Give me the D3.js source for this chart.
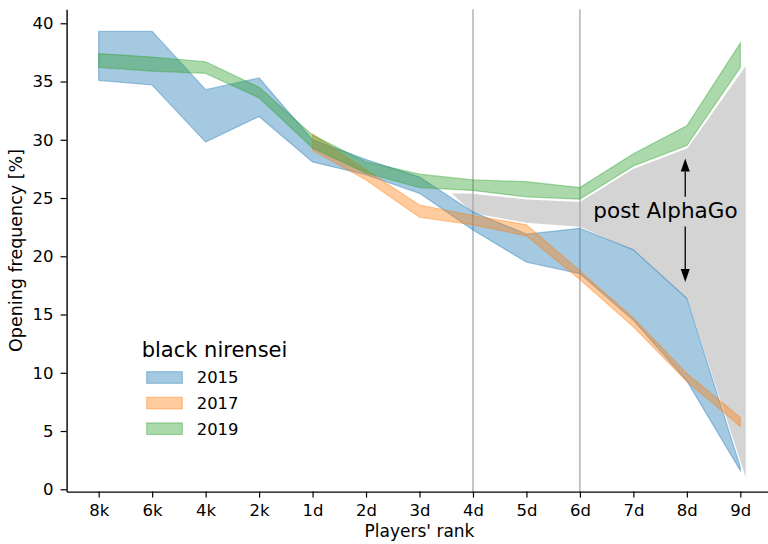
<!DOCTYPE html>
<html lang="en">
<head>
<meta charset="UTF-8">
<title>Opening frequency by rank</title>
<script src="https://d3js.org/d3.v7.min.js"></script>
<style>
  body { margin: 0; background: #fff; }
  svg { font-family: "DejaVu Sans", sans-serif; display: block; }
  .tick text { font-size: 16.5px; fill: #000; }
  .axis path, .axis line { stroke: #000; }
</style>
</head>
<body>
<div id="chart"></div>
<script>
// ranks on the x axis
const ranks = ["8k", "6k", "4k", "2k", "1d", "2d", "3d", "4d", "5d", "6d", "7d", "8d", "9d"];

// bands (lower / upper bound, %) per year
const low2015  = [35.1, 34.7, 29.8, 32.0, 28.1, 27.0, 25.4, 22.25, 19.5, 18.5, 14.5, 9.3, 1.6];
const high2015 = [39.3, 39.3, 34.3, 35.3, 30.0, 28.3, 26.8, 23.8, 21.9, 22.4, 20.55, 16.4, 1.9];
const low2017  = [null, null, null, null, 29.1, 26.55, 23.35, 22.7, 21.75, 18.0, 13.95, 9.25, 5.4];
const high2017 = [null, null, null, null, 30.5, 27.4, 24.4, 23.5, 22.7, 18.75, 14.7, 9.95, 6.15];
const low2019  = [36.2, 35.9, 35.7, 33.6, 29.3, 27.15, 25.9, 25.65, 25.1, 24.9, 27.75, 29.5, 36.2];
const high2019 = [37.4, 37.1, 36.7, 34.5, 30.4, 28.1, 27.05, 26.55, 26.4, 25.9, 28.8, 31.2, 38.3];

// grey "post AlphaGo" gap (x in rank index units)
const gapX    = [6.55, 7, 8, 9, 10, 11, 12.12];
const gapLow  = [25.5, 23.6, 22.8, 22.45, 20.4, 16.2, 0.5];
const gapHigh = [25.5, 25.45, 24.95, 24.75, 27.6, 29.35, 36.6];

const yTicks = [0, 5, 10, 15, 20, 25, 30, 35, 40];
const years = ["2015", "2017", "2019"];
const colors = ["#1f77b4", "#ff7f0e", "#2ca02c"];

const width = 768, height = 544;

const svg = d3.select("#chart").append("svg")
    .attr("width", width)
    .attr("height", height);

svg.append("rect").attr("width", width).attr("height", height).attr("fill", "#fff");

const x = d3.scaleLinear().domain([-0.6, 12.6]).range([66.6, 772.4]);
const y = d3.scaleLinear().domain([-0.2, 41.2]).range([491.6, 9.3]);

// grey gap area
const gap = gapX.map((v, i) => ({x: v, lo: gapLow[i], hi: gapHigh[i]}));
svg.append("path")
    .datum(gap)
    .attr("d", d3.area().x(d => x(d.x)).y0(d => y(d.lo)).y1(d => y(d.hi)))
    .attr("fill", "#d4d4d5")
    .attr("stroke", "#fff")
    .attr("stroke-width", 2)
    .attr("stroke-linejoin", "round");

// vertical marker lines at 4d and 6d
svg.selectAll(".vline")
    .data([7, 9])
    .enter()
    .append("line")
    .attr("class", "vline")
    .attr("x1", d => x(d)).attr("x2", d => x(d))
    .attr("y1", y.range()[0]).attr("y2", y.range()[1])
    .attr("stroke", "#a8a8a8")
    .attr("stroke-width", 1.3);

// year bands
const bands = [
    {lo: low2015, hi: high2015},
    {lo: low2017, hi: high2017},
    {lo: low2019, hi: high2019}
];

const area = d3.area()
    .defined(d => d.lo != null)
    .x(d => x(d.i))
    .y0(d => y(d.lo))
    .y1(d => y(d.hi));

bands.forEach((b, k) => {
    const rows = ranks.map((r, i) => ({i: i, lo: b.lo[i], hi: b.hi[i]}));
    svg.append("path")
        .datum(rows)
        .attr("d", area)
        .attr("fill", colors[k])
        .attr("fill-opacity", 0.4)
        .attr("stroke", colors[k])
        .attr("stroke-opacity", 0.4)
        .attr("stroke-width", 1.2);
});

// axes
const xAxis = d3.axisBottom(x)
    .tickValues(d3.range(ranks.length))
    .tickFormat(i => ranks[i])
    .tickSize(6)
    .tickSizeOuter(0)
    .tickPadding(7);

const yAxis = d3.axisLeft(y)
    .tickValues(yTicks)
    .tickSize(6)
    .tickSizeOuter(0)
    .tickPadding(7);

const gx = svg.append("g")
    .attr("class", "axis")
    .attr("transform", `translate(0,${y.range()[0]})`)
    .call(xAxis);
gx.select(".domain").attr("stroke-width", 1.4);
gx.selectAll(".tick line").attr("stroke-width", 1.2);

const gy = svg.append("g")
    .attr("class", "axis")
    .attr("transform", `translate(${x.range()[0]},0)`)
    .call(yAxis);
gy.select(".domain").attr("stroke-width", 1.4);
gy.selectAll(".tick line").attr("stroke-width", 1.2);

svg.selectAll(".tick text").attr("font-family", "DejaVu Sans");

// axis labels
svg.append("text")
    .attr("x", (x.range()[0] + x.range()[1]) / 2)
    .attr("y", 537)
    .attr("text-anchor", "middle")
    .style("font-size", "17px")
    .text("Players' rank");

svg.append("text")
    .attr("transform", `translate(16,${(y.range()[0] + y.range()[1]) / 2}) rotate(-90)`)
    .attr("text-anchor", "middle")
    .attr("dy", "0.35em")
    .style("font-size", "17.5px")
    .text("Opening frequency [%]");

// annotation: post AlphaGo with double arrow
const arrowX = x(10.97);
svg.append("text")
    .attr("x", x(10.6))
    .attr("y", y(23.9))
    .attr("dy", "0.35em")
    .attr("text-anchor", "middle")
    .style("font-size", "21.5px")
    .text("post AlphaGo");

function arrow(fromV, toV) {
    const y0 = y(fromV), y1 = y(toV);
    const dir = y1 < y0 ? -1 : 1;
    const headLen = 13, headW = 4.5;
    svg.append("line")
        .attr("x1", arrowX).attr("x2", arrowX)
        .attr("y1", y0).attr("y2", y1 - dir * headLen)
        .attr("stroke", "#000")
        .attr("stroke-width", 1.3);
    svg.append("path")
        .attr("d", `M${arrowX},${y1} L${arrowX - headW},${y1 - dir * headLen} L${arrowX + headW},${y1 - dir * headLen} Z`)
        .attr("fill", "#000");
}
arrow(25.1, 28.4);
arrow(22.55, 17.8);

// legend
const legend = svg.append("g").attr("transform", "translate(141.7,0)");
legend.append("text")
    .attr("x", 0)
    .attr("y", 356.7)
    .style("font-size", "21px")
    .text("black nirensei");

years.forEach((yr, k) => {
    const cy = 377.5 + k * 25.6;
    legend.append("rect")
        .attr("x", 5)
        .attr("y", cy - 5.8)
        .attr("width", 35.6)
        .attr("height", 11.6)
        .attr("fill", colors[k])
        .attr("fill-opacity", 0.4)
        .attr("stroke", colors[k])
        .attr("stroke-opacity", 0.4)
        .attr("stroke-width", 1.2);
    legend.append("text")
        .attr("x", 55)
        .attr("y", cy)
        .attr("dy", "0.36em")
        .style("font-size", "16.4px")
        .text(yr);
});
</script>
</body>
</html>
